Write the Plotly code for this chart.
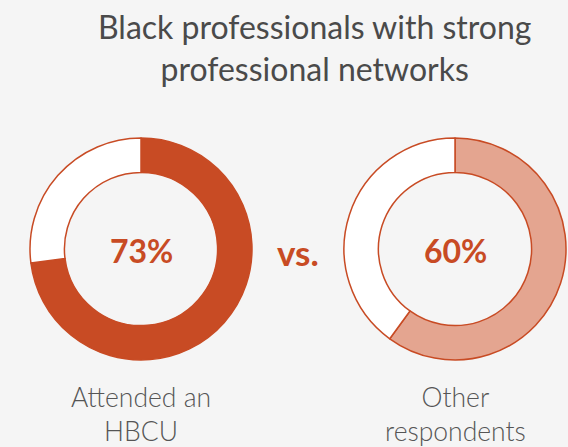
import plotly.graph_objects as go

# Share of Black professionals reporting strong professional networks
groups = ["Attended an<br>HBCU", "Other<br>respondents"]
shares = [73, 60]
fill_colors = ["#C84B24", "#E4A590"]

ORANGE = "#C84B24"
BG = "#F5F5F5"

W, H = 568, 447
# pie domains in pixels (left, right, top, bottom)
boxes = [(30, 252, 137, 361), (344, 566, 137, 361)]

fig = go.Figure()
for share, color, (x0, x1, y0, y1) in zip(shares, fill_colors, boxes):
    fig.add_trace(go.Pie(
        values=[share, 100 - share],
        marker=dict(colors=[color, "#FFFFFF"], line=dict(color=ORANGE, width=1.5)),
        hole=0.69,
        sort=False,
        direction="clockwise",
        rotation=0,
        textinfo="none",
        hoverinfo="none",
        showlegend=False,
        domain=dict(x=[x0 / W, x1 / W], y=[1 - y1 / H, 1 - y0 / H]),
    ))


def note(x_px, y_px, text, font):
    return dict(
        x=x_px / W, y=1 - y_px / H, xref="paper", yref="paper", text=text,
        showarrow=False, xanchor="center", yanchor="middle", align="center",
        font=font,
    )


annotations = []
for share, (x0, x1, y0, y1), label in zip(shares, boxes, groups):
    cx = (x0 + x1) / 2
    cy = (y0 + y1) / 2
    annotations.append(note(cx, cy + 1, f"{share}%",
                            dict(family="Lato", size=32, color=ORANGE, weight="bold")))
    annotations.append(note(cx, 414, label,
                            dict(family="Lato", size=26.5, color="#555555", weight=300)))

annotations.append(note(298, 252, "vs.",
                        dict(family="Lato", size=35, color=ORANGE, weight="bold")))
annotations.append(note(314, 48, "Black professionals with strong<br>professional networks",
                        dict(family="Lato", size=32, color="#4A4A4A")))

fig.update_layout(
    width=W, height=H,
    margin=dict(l=0, r=0, t=0, b=0),
    paper_bgcolor=BG, plot_bgcolor=BG,
    annotations=annotations,
)

fig.write_html("out.html")
